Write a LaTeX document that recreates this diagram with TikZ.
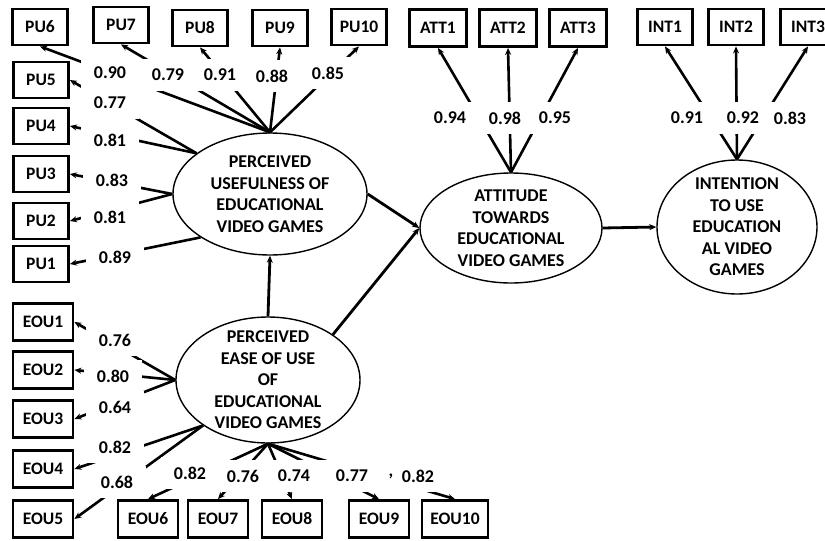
\documentclass[tikz,border=0pt]{standalone}
\usepackage{fontspec}
\setmainfont{Carlito}
\usetikzlibrary{arrows.meta, shapes.geometric}
\tikzset{
    indicator/.style={draw, line width=2.8pt, minimum width=55pt, minimum height=36pt, inner sep=0pt, font=\bfseries\fontsize{17.5}{20}\selectfont}, % observed item box
    construct/.style={ellipse, draw, line width=1.4pt, inner sep=0pt, align=center, font=\bfseries\fontsize{18}{21.5}\selectfont}, % latent construct
    load/.style={line width=2.6pt, -{Stealth[length=7pt, width=6pt]}}, % loading path
    coef/.style={fill=white, minimum width=58pt, minimum height=32pt, inner sep=0pt, font=\bfseries\fontsize{18}{20}\selectfont} % loading value, covers the path
}

\begin{document}
\begin{tikzpicture}[x=1pt, y=-1pt]
    \useasboundingbox (0,0) rectangle (825,541);

    % constructs
    \node[construct, minimum width=194pt, minimum height=122pt] (PU) at (270,194) {PERCEIVED\\USEFULNESS OF\\EDUCATIONAL\\VIDEO GAMES};
    \node[construct, minimum width=184pt, minimum height=126pt, inner ysep=-6pt] (EOU) at (268,380) {PERCEIVED\\EASE OF USE\\OF\\EDUCATIONAL\\VIDEO GAMES};
    \node[construct, minimum width=182pt, minimum height=110pt] (ATT) at (511,228) {ATTITUDE\\TOWARDS\\EDUCATIONAL\\VIDEO GAMES};
    \node[construct, minimum width=160pt, minimum height=134pt, inner ysep=-4pt] (INT) at (737,227) {INTENTION\\TO USE\\EDUCATION\\AL VIDEO\\GAMES};

    % items
    \foreach \n/\x/\y in {6/40/27, 7/121/25, 8/200/28, 9/280/28, 10/359/27, 5/41/80, 4/41/126, 3/41/174, 2/41/221, 1/41/264}
        \node[indicator] (pu\n) at (\x,\y) {PU\n};
    \foreach \n/\x/\y in {1/43/322, 2/43/370, 3/43/419, 4/43/469, 5/43/519, 6/148/519, 7/218/519, 8/292/519, 9/379/519}
        \node[indicator, minimum width=60pt, minimum height=37pt] (eou\n) at (\x,\y) {EOU\n};
    \node[indicator, minimum width=66pt, minimum height=37pt] (eou10) at (455,519) {EOU10};
    \foreach \n/\x in {1/438, 2/508, 3/578}
        \node[indicator, minimum width=57pt, minimum height=37pt] (att\n) at (\x,28) {ATT\n};
    \foreach \n/\x in {1/665, 2/736, 3/808}
        \node[indicator] (int\n) at (\x,27) {INT\n};

    % paths between constructs
    \draw[load, line width=2.8pt] (EOU.north) -- (PU.south);
    \draw[load, line width=2.8pt] (PU.east) -- (ATT.west);
    \draw[load, line width=2.8pt] (EOU.35) -- (ATT.west);
    \draw[load, line width=2.8pt] (ATT.east) -- (INT.west);

    % loadings
    \foreach \n in {6,...,10} \draw[load] (PU.north) -- (pu\n.south);
    \foreach \n/\a in {5/151, 4/151, 3/west, 2/west, 1/212} \draw[load] (PU.\a) -- (pu\n.east);
    \foreach \n/\a in {1/west, 2/west, 3/west, 4/215, 5/215} \draw[load] (EOU.\a) -- (eou\n.east);
    \foreach \n in {6,...,10} \draw[load] (EOU.south) -- (eou\n.north);
    \foreach \n in {1,2,3} {\draw[load] (ATT.north) -- (att\n.south); \draw[load] (INT.north) -- (int\n.south);}

    % values
    \foreach \v/\x/\y [count=\i] in {0.90/110/73, 0.79/168/75, 0.91/220/75, 0.88/272/76, 0.85/328/73, 0.77/110/103, 0.81/110/140, 0.83/112/180, 0.81/110/217, 0.89/115/257}
        \node[coef] (cpu\i) at (\x,\y) {\v};
    \foreach \v/\x/\y [count=\i] in {0.76/115/340, 0.80/113/376, 0.64/115/407, 0.82/115/447, 0.68/117/482, 0.82/190/473, 0.76/243/476, 0.74/294/476, 0.77/352/476, 0.82/418/476}
        \node[coef] (ceou\i) at (\x,\y) {\v};
    \foreach \v/\x [count=\i] in {0.94/450, 0.98/505, 0.95/555}
        \node[coef] (catt\i) at (\x,118) {\v};
    \foreach \v/\x [count=\i] in {0.91/687, 0.92/743, 0.83/790}
        \node[coef] (cint\i) at (\x,118) {\v};
    \node[coef, minimum width=22pt] (comma) at (391,476) {,};
\end{tikzpicture}
\end{document}
